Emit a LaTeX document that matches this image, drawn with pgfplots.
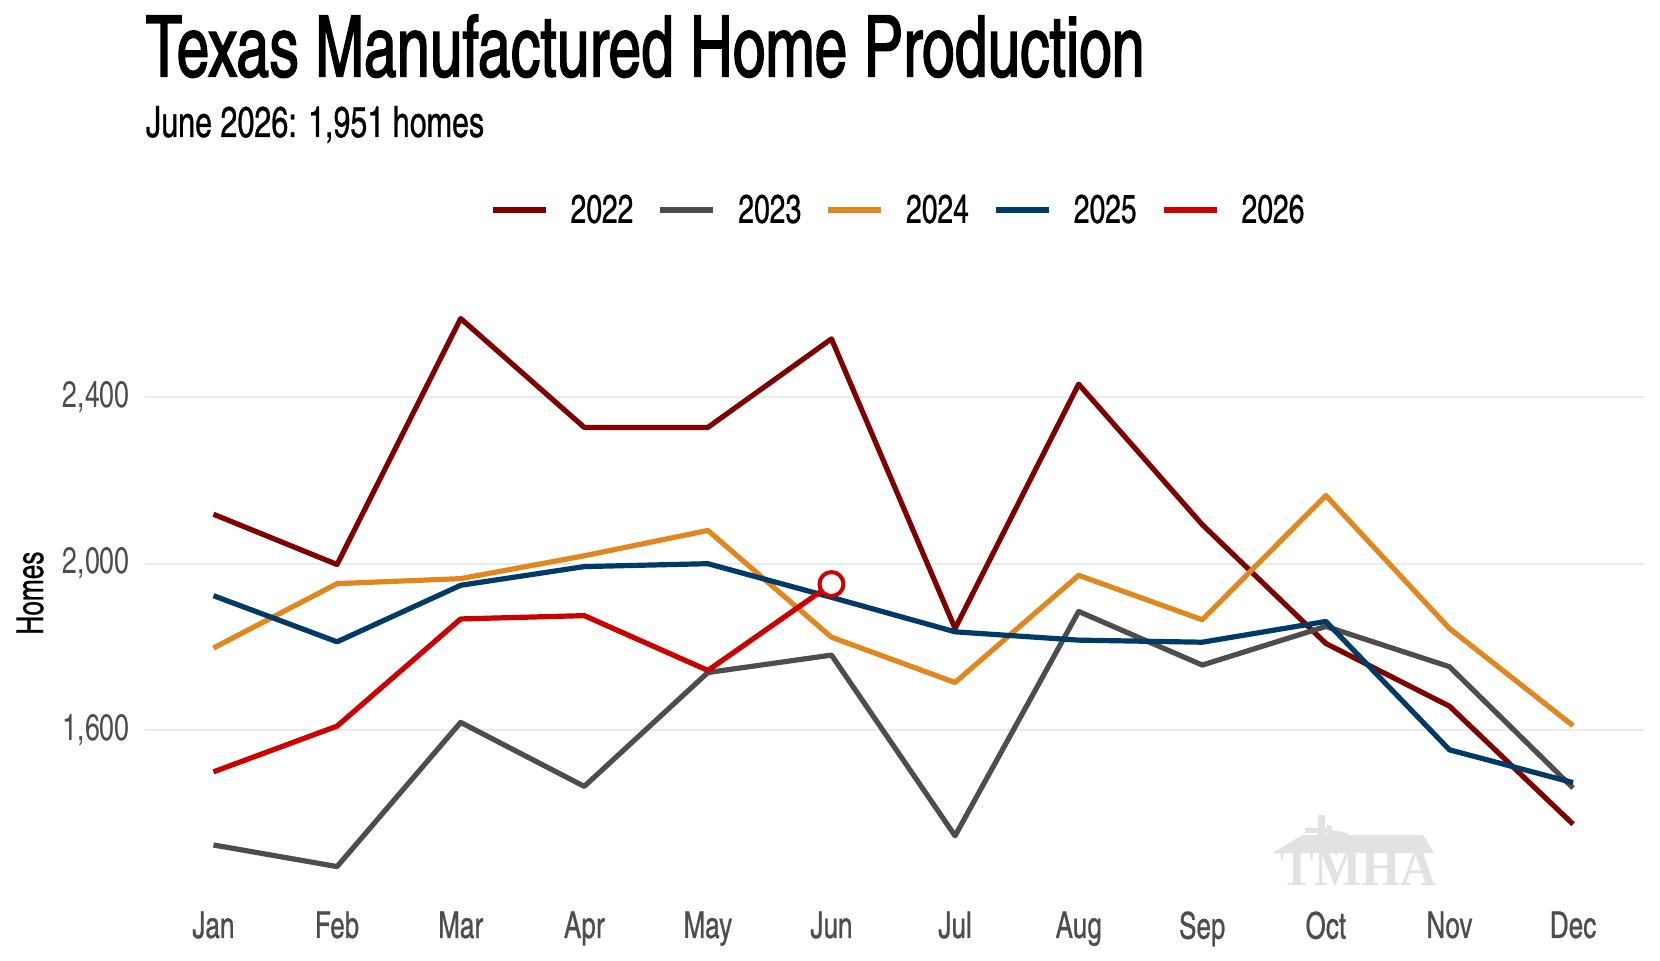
\documentclass[border=0pt]{standalone}
\usepackage{fontspec}
\setmainfont{texgyreheroscn}[Extension=.otf, UprightFont=*-regular, BoldFont=*-bold, ItalicFont=*-italic, BoldItalicFont=*-bolditalic, FakeStretch=0.88]
\newfontfamily\titlefont{texgyreheroscn}[Extension=.otf, UprightFont=*-regular, FakeStretch=0.845, FakeBold=1.6]
\newfontfamily\subfont{texgyreheroscn}[Extension=.otf, UprightFont=*-regular, FakeStretch=0.86, FakeBold=0.6]
\newfontfamily\logofont{Liberation Serif}[FakeStretch=0.93]
\usepackage{pgfplots}
\pgfplotsset{compat=1.18}
\definecolor{c22}{HTML}{7F0000}
\definecolor{c23}{HTML}{4D4D4D}
\definecolor{c24}{HTML}{E0881F}
\definecolor{c25}{HTML}{003A66}
\definecolor{c26}{HTML}{CC0000}
\definecolor{gridc}{HTML}{EBEBEB}
\definecolor{tickc}{HTML}{4D4D4D}
\definecolor{logoc}{HTML}{E2E2E4}
\begin{document}
\begin{tikzpicture}
\useasboundingbox (0,0) rectangle (830pt,480pt);
% watermark logo
\fill[logoc] (636.5pt,53.5pt) -- (651pt,62.5pt) -- (711.5pt,62.5pt) -- (717pt,53.5pt) -- cycle;
\fill[logoc] (659pt,62.5pt) rectangle (662.5pt,72.5pt);
\fill[logoc] (652.5pt,63.5pt) rectangle (666pt,66pt);
\fill[logoc] (663.3pt,67.5pt) -- (665.8pt,67.5pt) -- (665.8pt,65pt) -- (670.8pt,64.2pt) -- (674.2pt,63.3pt) -- (672.5pt,58.3pt) -- (670pt,55.8pt) -- (668pt,51.7pt) -- (665.8pt,57.5pt) -- (663.3pt,61.7pt) -- cycle;
\node[anchor=base, inner sep=0pt, text=logoc, font=\logofont\bfseries\fontsize{27pt}{27pt}\selectfont] at (679.5pt,37.5pt) {TMHA};
% titles
\node[anchor=base west, inner sep=0pt, font=\titlefont\fontsize{42.5pt}{42.5pt}\selectfont] at (72.8pt,441.75pt) {Texas Manufactured Home Production};
\node[anchor=base west, inner sep=0pt, font=\subfont\fontsize{21.6pt}{21.6pt}\selectfont] at (72.8pt,411.5pt) {June 2026: 1,951 homes};
\begin{axis}[
  at={(72.5pt,33pt)}, anchor=south west,
  scale only axis, width=749.5pt, height=301.5pt,
  xmin=0.446, xmax=12.574, ymin=1205, ymax=2656.3,
  axis line style={draw=none},
  major tick length=0pt,
  xtick={1,2,3,4,5,6,7,8,9,10,11,12},
  xticklabels={Jan,Feb,Mar,Apr,May,Jun,Jul,Aug,Sep,Oct,Nov,Dec},
  ytick={1600,2000,2400},
  ymajorgrids, grid style={gridc, line width=1pt},
  /pgf/number format/assume math mode=true,
  /pgf/number format/1000 sep={,},
  xticklabel style={font=\subfont\fontsize{18.5pt}{18.5pt}\selectfont, text=tickc, anchor=north, inner sep=0pt, yshift=-8.5pt},
  yticklabel style={font=\fontsize{18.5pt}{18.5pt}\selectfont, text=tickc, anchor=east, inner sep=0pt, xshift=-7.5pt},
  ylabel={Homes},
  ylabel style={font=\subfont\fontsize{18.6pt}{18.6pt}\selectfont, at={(axis description cs:-0.0767,0.499)}, anchor=center},
  legend columns=5,
  legend style={draw=none, fill=none, at={(axis description cs:0.5017,1.134)}, anchor=center, font=\subfont\fontsize{20pt}{20pt}\selectfont, nodes={inner sep=0pt}, /tikz/every odd column/.append style={column sep=11pt}, /tikz/every even column/.append style={column sep=12pt}},
  legend image code/.code={\draw[line width=3pt] (0pt,0pt) -- (26.5pt,0pt);},
  every axis plot/.append style={line width=2.6pt, line join=round},
  clip=false,
]
\addplot[c22, no markers] coordinates {(1,2119) (2,1998) (3,2590) (4,2328) (5,2328) (6,2541) (7,1844) (8,2432) (9,2094) (10,1808) (11,1657) (12,1373)};
\addlegendentry{2022}
\addplot[c23, no markers] coordinates {(1,1323) (2,1271) (3,1618) (4,1464) (5,1738) (6,1780) (7,1345) (8,1885) (9,1756) (10,1849) (11,1752) (12,1460)};
\addlegendentry{2023}
\addplot[c24, no markers] coordinates {(1,1797) (2,1952) (3,1964) (4,2019) (5,2080) (6,1823) (7,1714) (8,1972) (9,1865) (10,2164) (11,1844) (12,1610)};
\addlegendentry{2024}
\addplot[c25, no markers] coordinates {(1,1923) (2,1812) (3,1948) (4,1993) (5,2000) (6,1919) (7,1836) (8,1816) (9,1811) (10,1861) (11,1552) (12,1473)};
\addlegendentry{2025}
\addplot[c26, no markers] coordinates {(1,1499) (2,1609) (3,1867) (4,1875) (5,1743) (6,1951)};
\addlegendentry{2026}
\addplot[only marks, mark=*, mark size=6pt, mark options={fill=white, draw=c26, line width=2pt}, forget plot] coordinates {(6,1951)};
\end{axis}
\end{tikzpicture}
\end{document}
